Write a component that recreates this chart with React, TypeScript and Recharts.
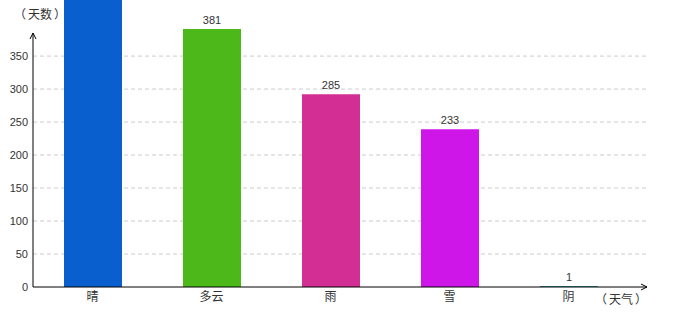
import {
    BarChart,
    Bar,
    Cell,
    XAxis,
    YAxis,
    CartesianGrid,
    LabelList,
    useOffset,
    useChartWidth,
    useChartHeight,
} from "recharts";

// weather categories and day counts (bar heights, labels as printed)
const categories = ["晴", "多云", "雨", "雪", "阴"];
const barDays = [460, 391, 292, 239, 1];
const dayLabels = ["", "381", "285", "233", "1"];
const barColors = ["#0a5fcf", "#4db81a", "#d22e93", "#cf16e8", "#3398a3"];
const yTicks = [0, 50, 100, 150, 200, 250, 300, 350];
const yMax = 435;
const yArrowTop = 385;

const data = categories.map((name, i) => ({
    name,
    days: barDays[i],
    label: dayLabels[i],
}));

const numFont = "'Liberation Sans', Arial, sans-serif";
const cjkFont = "'Noto Sans CJK SC', sans-serif";

// axis name with a little air inside the full-width brackets
function AxisName({ x, y, name }: { x: number; y: number; name: string }) {
    return (
        <text x={x} y={y} textAnchor="middle" fontSize={12} fontFamily={cjkFont} fill="#333">
            <tspan>（</tspan>
            <tspan dx={2}>{name}</tspan>
            <tspan dx={2}>）</tspan>
        </text>
    );
}

function AxisDecor() {
    const offset = useOffset();
    const width = useChartWidth();
    const height = useChartHeight();
    if (!offset || !width || !height) return null;
    const x0 = offset.left;
    const y0 = height - offset.bottom;
    const plotH = y0 - offset.top;
    const yTop = y0 - plotH * (yArrowTop / yMax);
    const xEnd = width - offset.right;
    return (
        <g>
            <line x1={x0} y1={y0} x2={x0} y2={yTop} stroke="#000" strokeWidth={1} />
            <polyline points={`${x0 - 3},${yTop + 6} ${x0},${yTop} ${x0 + 3},${yTop + 6}`} fill="none" stroke="#000" />
            <polyline points={`${xEnd - 6},${y0 - 3} ${xEnd},${y0} ${xEnd - 6},${y0 + 3}`} fill="none" stroke="#000" />
            <AxisName x={x0 + 7} y={yTop - 14} name="天数" />
            <AxisName x={xEnd - 26} y={y0 + 17} name="天气" />
        </g>
    );
}

// dashed grid only at the printed ticks (not at the plot's top edge)
const gridRows = ({ offset }: any) => {
    const top = offset?.top ?? 0;
    const h = offset?.height ?? 287;
    return yTicks.slice(1).map((t) => top + h * (1 - t / yMax));
};

export default function App() {
    return (
        <div style={{ position: "absolute", left: 0, top: 0, background: "#fff" }}>
            <BarChart width={680} height={320} data={data} margin={{ top: 0, right: 33, bottom: 0, left: 0 }}>
                <CartesianGrid
                    vertical={false}
                    stroke="#ccc"
                    strokeDasharray="4 3"
                    horizontalCoordinatesGenerator={gridRows}
                />
                <XAxis
                    dataKey="name"
                    height={33}
                    padding={{ left: 0, right: 19 }}
                    axisLine={{ stroke: "#000" }}
                    tickLine={false}
                    tickSize={0}
                    tickMargin={5}
                    tick={{ fontSize: 12, fontFamily: cjkFont, fill: "#333" }}
                />
                <YAxis
                    width={33}
                    domain={[0, yMax]}
                    allowDataOverflow
                    ticks={yTicks}
                    axisLine={false}
                    tickLine={false}
                    tickSize={3}
                    tickMargin={2}
                    tick={{ fontSize: 11, fontFamily: numFont, fill: "#333" }}
                />
                <Bar dataKey="days" barSize={58} minPointSize={1} isAnimationActive={false}>
                    {data.map((d, i) => (
                        <Cell key={d.name} fill={barColors[i]} />
                    ))}
                    <LabelList dataKey="label" position="top" offset={5} fontSize={11} fontFamily={numFont} fill="#333" />
                </Bar>
                <AxisDecor />
            </BarChart>
        </div>
    );
}
